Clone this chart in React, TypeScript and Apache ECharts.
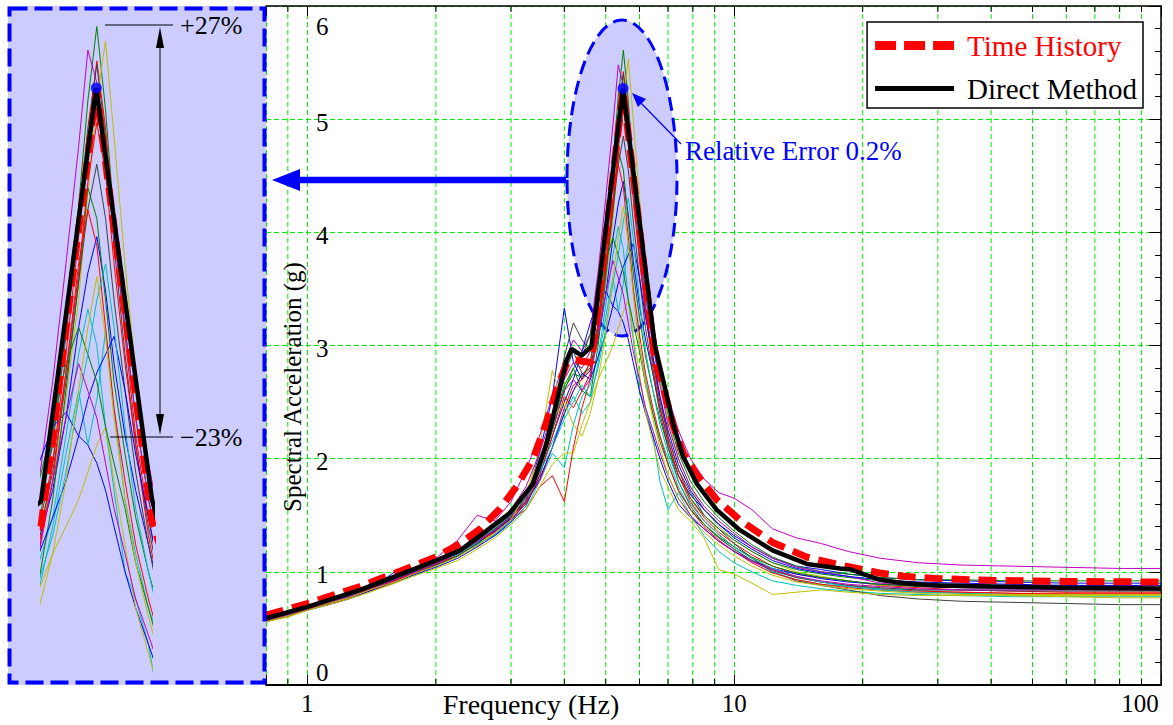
import React, { useEffect, useRef } from 'react';
import * as echarts from 'echarts';

// ---------- data ----------
const FREQ = [0.8, 0.9, 1.0, 1.12, 1.25, 1.4, 1.6, 1.8, 2.0, 2.25,
  2.5, 2.75, 3.0, 3.25, 3.5, 3.75, 4.0, 4.2, 4.4, 4.6,
  4.8, 5.0, 5.2, 5.35, 5.5, 5.65, 5.8, 6.0, 6.2, 6.45,
  6.7, 7.0, 7.4, 7.9, 8.5, 9.2, 10, 11, 12.3, 14,
  16, 18.5, 22, 27, 34, 45, 60, 80, 100];

const REC_01 = [0.57,0.62,0.68,0.72,0.80,0.84,1.00,1.02,1.08,1.15,1.24,1.33,1.45,1.62,2.05,2.55,3.33,2.85,2.70,2.78,3.05,3.45,3.95,4.25,4.45,4.15,3.75,3.35,3.05,2.75,2.45,2.15,1.85,1.68,1.55,1.42,1.32,1.22,1.12,1.05,1.02,0.98,0.95,0.93,0.92,0.91,0.90,0.90,0.90];
const REC_02 = [0.58,0.63,0.68,0.73,0.78,0.85,0.93,1.01,1.07,1.16,1.27,1.38,1.48,1.66,1.90,2.25,2.62,2.75,2.72,2.85,3.35,3.95,4.62,5.20,5.61,5.15,4.55,3.95,3.45,3.00,2.70,2.38,2.05,1.80,1.62,1.48,1.36,1.24,1.13,1.05,1.00,0.98,0.95,0.93,0.93,0.92,0.92,0.92,0.92];
const REC_03 = [0.56,0.61,0.67,0.71,0.77,0.83,0.90,0.99,1.05,1.20,1.22,1.36,1.47,1.55,1.75,1.85,1.62,2.10,2.45,2.70,3.20,3.80,4.45,5.00,5.42,5.05,4.50,3.90,3.35,2.90,2.55,2.20,1.90,1.65,1.48,1.35,1.25,1.15,1.05,0.98,0.95,0.92,0.88,0.86,0.84,0.83,0.82,0.82,0.82];
const REC_04 = [0.57,0.62,0.66,0.72,0.78,0.84,0.92,1.00,1.05,1.14,1.25,1.32,1.42,1.55,1.80,2.05,1.92,2.30,2.55,2.65,2.90,3.35,3.80,4.05,3.85,3.40,3.05,2.60,2.45,2.20,1.80,1.55,1.70,1.50,1.32,1.18,1.08,1.00,0.92,0.88,0.85,0.83,0.81,0.80,0.79,0.78,0.78,0.78,0.78];
const REC_05 = [0.58,0.64,0.70,0.75,0.80,0.87,0.96,1.04,1.12,1.28,1.50,1.45,1.62,1.90,2.20,2.55,2.85,3.05,2.95,3.10,3.65,4.30,4.95,5.48,5.30,4.95,4.50,4.05,3.65,3.20,2.85,2.55,2.25,2.00,1.82,1.70,1.65,1.55,1.38,1.30,1.25,1.18,1.12,1.08,1.06,1.05,1.04,1.03,1.03];
const REC_06 = [0.56,0.61,0.67,0.72,0.77,0.85,0.93,1.00,1.06,1.14,1.24,1.35,1.50,1.65,2.10,2.78,2.45,2.60,2.70,2.80,3.10,3.55,4.10,4.70,5.20,5.53,5.00,4.30,3.70,3.10,2.70,2.35,2.00,1.75,1.55,1.40,1.28,1.18,1.08,1.00,0.96,0.92,0.88,0.84,0.81,0.79,0.78,0.77,0.77];
const REC_07 = [0.57,0.62,0.67,0.73,0.77,0.84,0.92,0.98,1.06,1.15,1.25,1.37,1.50,1.68,1.95,2.40,2.90,3.20,3.05,2.95,3.30,3.90,4.55,5.05,5.40,5.00,4.40,3.80,3.30,2.85,2.50,2.20,1.90,1.70,1.50,1.38,1.25,1.12,1.00,0.92,0.88,0.84,0.79,0.76,0.74,0.73,0.72,0.71,0.71];
const REC_08 = [0.56,0.61,0.66,0.71,0.76,0.83,0.91,0.98,1.04,1.12,1.22,1.32,1.44,1.58,1.85,2.20,2.50,2.70,2.95,3.20,3.40,3.48,3.35,3.30,3.20,3.05,2.85,2.60,2.40,2.20,2.00,1.80,1.60,1.48,1.38,1.27,1.18,1.10,1.03,0.98,0.94,0.91,0.89,0.88,0.87,0.86,0.86,0.86,0.86];
const REC_09 = [0.58,0.63,0.68,0.73,0.79,0.86,0.94,1.02,1.08,1.17,1.28,1.40,1.50,1.62,1.88,2.25,2.60,2.80,2.60,2.55,3.00,3.60,4.20,4.72,4.55,4.10,3.65,3.25,2.90,2.60,2.35,2.10,1.85,1.65,1.50,1.38,1.28,1.18,1.08,1.02,0.98,0.95,0.92,0.90,0.89,0.88,0.88,0.88,0.88];
const REC_10 = [0.57,0.62,0.67,0.73,0.78,0.85,0.94,1.01,1.07,1.16,1.26,1.38,1.48,1.62,1.80,2.10,2.45,2.65,2.70,2.85,3.20,3.70,4.25,4.75,5.08,4.80,4.30,3.75,3.30,2.80,2.45,2.15,1.85,1.62,1.45,1.33,1.22,1.12,1.02,0.95,0.91,0.88,0.85,0.83,0.82,0.81,0.80,0.80,0.80];
const REC_11 = [0.57,0.61,0.67,0.72,0.78,0.85,0.93,1.00,1.06,1.16,1.24,1.33,1.45,1.58,1.90,2.15,2.40,2.55,2.40,2.50,2.85,3.25,3.60,3.30,3.55,3.93,3.50,3.00,2.70,2.40,2.20,2.00,1.75,1.55,1.42,1.30,1.20,1.10,1.00,0.93,0.89,0.87,0.85,0.84,0.84,0.84,0.84,0.84,0.84];
const REC_12 = [0.57,0.63,0.68,0.73,0.79,0.86,0.95,1.02,1.09,1.18,1.30,1.42,1.55,1.75,2.05,2.40,2.70,2.85,2.80,2.95,3.40,3.95,4.50,4.95,5.25,4.90,4.45,3.95,3.45,3.00,2.65,2.30,2.00,1.75,1.58,1.45,1.34,1.22,1.12,1.04,1.00,0.96,0.90,0.87,0.86,0.85,0.85,0.85,0.85];
const REC_13 = [0.56,0.60,0.66,0.71,0.76,0.82,0.90,0.97,1.03,1.10,1.20,1.30,1.42,1.55,1.75,1.95,2.05,2.05,2.30,2.50,2.70,2.85,3.00,3.15,3.30,3.40,3.10,2.75,2.40,2.15,1.90,1.75,1.55,1.45,1.30,1.02,0.98,0.90,0.80,0.82,0.84,0.82,0.80,0.79,0.79,0.79,0.79,0.79,0.79];
const REC_14 = [0.56,0.61,0.67,0.72,0.78,0.84,0.92,0.99,1.06,1.14,1.25,1.36,1.48,1.65,1.92,2.30,2.75,2.95,2.75,2.80,3.15,3.65,4.20,4.60,4.85,4.55,4.10,3.60,3.15,2.75,2.40,2.10,1.80,1.58,1.42,1.30,1.20,1.10,1.01,0.95,0.91,0.88,0.86,0.84,0.84,0.83,0.83,0.83,0.83];
const REC_15 = [0.57,0.62,0.67,0.72,0.78,0.85,0.93,1.01,1.07,1.16,1.26,1.36,1.47,1.60,1.82,2.10,2.40,2.60,2.75,2.70,2.90,3.10,3.35,3.55,3.70,3.80,3.90,3.60,3.25,2.90,2.55,2.25,1.95,1.72,1.55,1.42,1.30,1.20,1.10,1.03,0.99,0.96,0.93,0.91,0.90,0.89,0.88,0.88,0.88];
const REC_16 = [0.57,0.62,0.68,0.73,0.78,0.85,0.94,1.01,1.08,1.17,1.28,1.38,1.50,1.66,1.95,2.30,2.65,2.80,2.90,3.10,3.40,3.75,3.95,3.80,3.65,3.40,3.20,2.95,2.65,2.40,2.15,1.95,1.72,1.55,1.42,1.31,1.22,1.13,1.05,0.99,0.95,0.92,0.89,0.87,0.86,0.86,0.86,0.86,0.86];
const REC_17 = [0.57,0.61,0.67,0.72,0.77,0.85,0.92,1.00,1.07,1.15,1.27,1.35,1.46,1.60,1.85,2.20,2.55,2.45,2.60,2.75,3.10,3.70,4.30,4.60,4.40,3.95,3.50,3.10,2.75,2.45,2.20,1.95,1.72,1.55,1.40,1.28,1.18,1.08,0.99,0.93,0.89,0.86,0.84,0.82,0.82,0.81,0.81,0.81,0.81];
const REC_18 = [0.58,0.62,0.68,0.73,0.78,0.86,0.95,1.02,1.09,1.15,1.26,1.39,1.50,1.65,1.88,2.10,2.35,2.50,2.65,2.55,2.80,3.15,3.55,3.80,4.10,4.30,3.95,3.40,2.95,2.60,2.30,2.05,1.80,1.60,1.45,1.33,1.22,1.12,1.03,0.96,0.91,0.87,0.84,0.82,0.81,0.80,0.80,0.80,0.80];
const REC_19 = [0.57,0.62,0.67,0.73,0.78,0.84,0.93,1.00,1.07,1.17,1.27,1.37,1.49,1.64,1.92,2.28,2.60,2.70,2.60,2.70,3.10,3.45,3.75,3.60,3.45,3.20,2.95,2.70,2.45,2.25,2.05,1.85,1.65,1.50,1.38,1.27,1.18,1.09,1.02,0.96,0.92,0.89,0.87,0.85,0.84,0.84,0.84,0.84,0.84];
const REC_20 = [0.56,0.61,0.66,0.72,0.77,0.84,0.91,0.99,1.05,1.13,1.23,1.34,1.46,1.70,2.00,2.35,2.50,2.30,2.20,2.40,2.70,3.10,3.60,3.95,4.23,3.90,3.45,3.00,2.65,2.35,2.10,1.85,1.65,1.48,1.35,1.24,1.14,1.05,0.97,0.91,0.88,0.85,0.83,0.81,0.80,0.80,0.80,0.80,0.80];

const RECORDS = [REC_01, REC_02, REC_03, REC_04, REC_05, REC_06, REC_07, REC_08, REC_09, REC_10,
  REC_11, REC_12, REC_13, REC_14, REC_15, REC_16, REC_17, REC_18, REC_19, REC_20];
const REC_COLORS = ['#0000ff', '#008000', '#ff0000', '#00bfbf', '#bf00bf', '#bfbf00', '#404040'];

const TH_FREQ = [0.8, 1.0, 1.33, 1.74, 2.0, 2.28, 2.54, 2.83, 3.1, 3.38, 3.63, 3.83, 4.05, 4.2, 4.4, 4.63, 5.49, 6.52, 6.88, 7.19, 7.59, 8.17, 9.09, 10.3, 12.3, 14.8, 17.7, 21.9, 25, 30, 40, 60, 100];
const TH_ACC = [0.617, 0.72, 0.87, 1.04, 1.13, 1.25, 1.38, 1.56, 1.76, 2.0, 2.32, 2.6, 2.84, 2.88, 2.86, 2.85, 5.26, 2.88, 2.58, 2.3, 2.05, 1.86, 1.64, 1.46, 1.26, 1.13, 1.06, 0.99, 0.96, 0.94, 0.925, 0.915, 0.91];

const DM_FREQ = [0.8, 1.0, 1.33, 1.74, 2.0, 2.28, 2.54, 2.98, 3.38, 3.63, 3.83, 4.05, 4.16, 4.39, 4.63, 5.49, 6.52, 6.88, 7.19, 7.59, 8.17, 9.09, 10.3, 12.3, 14.8, 17.7, 18.8, 21.9, 25, 30, 40, 60, 100];
const DM_ACC = [0.59, 0.69, 0.84, 1.01, 1.10, 1.19, 1.32, 1.52, 1.78, 2.13, 2.49, 2.87, 2.97, 2.91, 2.99, 5.27, 3.0, 2.63, 2.31, 2.02, 1.78, 1.55, 1.37, 1.19, 1.07, 1.03, 1.02, 0.93, 0.90, 0.88, 0.87, 0.86, 0.853];

const PEAK = [5.49, 5.27];
const X_TICK_LABELS = [1, 10, 100];
const MINOR_X = [0.9, 2, 3, 4, 5, 6, 7, 8, 9, 20, 30, 40, 50, 60, 70, 80, 90];

// ---------- styling ----------
const SERIF = "'Liberation Serif', 'DejaVu Serif', serif";
const GREEN = '#00ee00';
const LAVENDER = '#ccccff';
const BLUE = '#0000ff';
const ICON_DASHED = 'path://M0,0h21v9h-21z M29,0h21v9h-21z M58,0h21v9h-21z';
const ICON_SOLID = 'path://M0,0h0.01v0.01h-0.01z M0,2h79v5h-79z M78.99,8.99h0.01v0.01h-0.01z';

export default function App() {
  const ref = useRef<HTMLDivElement>(null);

  useEffect(() => {
    if (!ref.current) return;
    const chart = echarts.init(ref.current, undefined, { renderer: 'svg' });

    const series: any[] = [];
    RECORDS.forEach((rec, i) => {
      const data = FREQ.map((f, j) => [f, rec[j]]);
      const color = REC_COLORS[i % REC_COLORS.length];
      [[0, 0], [2, 2]].forEach(([xi, yi]) => {
        series.push({
          type: 'line', name: `Record ${i + 1}`, xAxisIndex: xi, yAxisIndex: yi,
          data, symbol: 'none', silent: true, z: 2,
          lineStyle: { color, width: 1 }, itemStyle: { color },
        });
      });
    });
    const thData = TH_FREQ.map((f, i) => [f, TH_ACC[i]]);
    const dmData = DM_FREQ.map((f, i) => [f, DM_ACC[i]]);
    [[0, 0], [2, 2]].forEach(([xi, yi]) => {
      series.push({
        type: 'line', name: 'Time History', xAxisIndex: xi, yAxisIndex: yi, data: thData,
        symbol: 'none', z: 3,
        lineStyle: { color: '#ff0000', width: 7, type: [18, 9] }, itemStyle: { color: '#ff0000' },
      });
      series.push({
        type: 'line', name: 'Direct Method', xAxisIndex: xi, yAxisIndex: yi, data: dmData,
        symbol: 'none', z: 4,
        lineStyle: { color: '#000000', width: 4.5 }, itemStyle: { color: '#000000' },
      });
      series.push({
        type: 'scatter', name: 'Peak', xAxisIndex: xi, yAxisIndex: yi, data: [PEAK],
        symbolSize: 11, z: 5, itemStyle: { color: BLUE },
      });
    });
    // minor log gridlines & ticks
    series.push({
      type: 'custom', name: 'minor', xAxisIndex: 0, yAxisIndex: 0, z: 0, silent: true,
      data: MINOR_X.map((v) => [v, 0]),
      encode: { x: 0, y: 1 },
      renderItem: (params: any, api: any) => {
        const x = api.coord([api.value(0), 1])[0];
        const cs = params.coordSys;
        const top = cs.y, bot = cs.y + cs.height;
        return {
          type: 'group',
          children: [
            { type: 'line', shape: { x1: x, y1: top, x2: x, y2: bot }, style: { stroke: GREEN, lineWidth: 1, lineDash: [5, 3] } },
            { type: 'line', shape: { x1: x, y1: bot, x2: x, y2: bot - 6 }, style: { stroke: '#000', lineWidth: 1 } },
            { type: 'line', shape: { x1: x, y1: top, x2: x, y2: top + 6 }, style: { stroke: '#000', lineWidth: 1 } },
          ],
        };
      },
    });

    const fmtX = (v: number) => {
      const r = Math.round(v * 1000) / 1000;
      if (r === 100) return '{r|100}';
      if (X_TICK_LABELS.includes(r)) return `{n|${r}}`;
      return '';
    };
    const fmtY = (v: number) => (v === 6 ? `{t|${v}}` : v === 0 ? `{b|${v}}` : `{m|${v}}`);
    const tickFont = { fontFamily: SERIF, fontSize: 25, color: '#000' };

    const option: any = {
      animation: false,
      backgroundColor: '#ffffff',
      grid: [
        { left: 266, top: 6, right: 12, bottom: 40, show: false },
        { left: 41, top: 6, width: 111, height: 679, show: false },
      ],
      xAxis: [
        {
          type: 'log', logBase: 10, gridIndex: 0, min: 0.8, max: 100, position: 'bottom',
          axisLine: { show: true, onZero: false, lineStyle: { color: '#000', width: 2 } },
          axisTick: { show: true, inside: true, length: 10, lineStyle: { color: '#000', width: 1 } },
          axisLabel: {
            show: true, margin: 6, formatter: fmtX, ...tickFont,
            rich: { n: { ...tickFont }, r: { ...tickFont, padding: [0, 42, 0, 0] } },
          },
          splitLine: { show: true, lineStyle: { color: GREEN, width: 1, type: [5, 3] } },
        },
        {
          type: 'log', logBase: 10, gridIndex: 0, min: 0.8, max: 100, position: 'top',
          axisLine: { show: true, onZero: false, lineStyle: { color: '#000', width: 1.5 } },
          axisTick: { show: true, inside: true, length: 10, lineStyle: { color: '#000', width: 1 } },
          axisLabel: { show: false }, splitLine: { show: false },
        },
        { type: 'log', logBase: 10, gridIndex: 1, min: 4.63, max: 6.52, show: false },
      ],
      yAxis: [
        {
          type: 'value', gridIndex: 0, min: 0, max: 6, interval: 1, position: 'left',
          axisLine: { show: false }, axisTick: { show: false },
          axisLabel: {
            inside: true, margin: 50, formatter: fmtY, ...tickFont,
            rich: {
              t: { ...tickFont, padding: [40, 0, 0, 0] },
              b: { ...tickFont, padding: [0, 0, 26, 0] },
              m: { ...tickFont, padding: [6, 0, 0, 0] },
            },
          },
          splitLine: { show: true, lineStyle: { color: GREEN, width: 1, type: [5, 3] } },
        },
        {
          type: 'value', gridIndex: 0, min: 0, max: 6, interval: 1, position: 'right',
          axisLine: { show: true, onZero: false, lineStyle: { color: '#000', width: 1.5 } },
          axisTick: { show: true, inside: true, length: 12, lineStyle: { color: '#000' } },
          minorTick: { show: true, splitNumber: 5, length: 6, lineStyle: { color: '#000' } },
          axisLabel: { show: false }, splitLine: { show: false },
        },
        { type: 'value', gridIndex: 1, min: 1.976, max: 5.723, show: false },
      ],
      legend: {
        orient: 'vertical', right: 30, top: 22,
        padding: [9, 6, 5, 8], itemGap: 14, itemWidth: 79, itemHeight: 9,
        borderColor: '#000', borderWidth: 1.5, backgroundColor: '#fff',
        textStyle: { fontFamily: SERIF, fontSize: 29, padding: [0, 0, 0, 8] },
        data: [
          { name: 'Time History', icon: ICON_DASHED, textStyle: { color: '#ff0000' } },
          { name: 'Direct Method', icon: ICON_SOLID, textStyle: { color: '#000000' } },
        ],
      },
      graphic: [
        { type: 'rect', z: 0, silent: true, shape: { x: 8, y: 6, width: 258, height: 679 }, style: { fill: LAVENDER } },
        { type: 'rect', z: 100, silent: true, shape: { x: 9.5, y: 8.5, width: 255, height: 674 }, style: { fill: 'none', stroke: BLUE, lineWidth: 4, lineDash: [18, 7] } },
        { type: 'ellipse', z: 1, silent: true, shape: { cx: 622, cy: 178, rx: 55, ry: 158 }, style: { fill: LAVENDER, stroke: BLUE, lineWidth: 3, lineDash: [14, 7] } },
        { type: 'line', z: 100, silent: true, shape: { x1: 296, y1: 180, x2: 566, y2: 180 }, style: { stroke: BLUE, lineWidth: 6.5 } },
        { type: 'polygon', z: 100, silent: true, shape: { points: [[272, 180], [300, 169], [300, 191]] }, style: { fill: BLUE } },
        { type: 'line', z: 100, silent: true, shape: { x1: 681, y1: 144, x2: 641, y2: 103 }, style: { stroke: BLUE, lineWidth: 1.2 } },
        { type: 'polygon', z: 100, silent: true, shape: { points: [[632, 93], [646, 99], [638, 107]] }, style: { fill: BLUE } },
        { type: 'text', z: 100, silent: true, x: 685, y: 151, style: { text: 'Relative Error 0.2%', fill: BLUE, font: `27px ${SERIF}`, align: 'left', verticalAlign: 'middle' } },
        // inset annotation
        { type: 'line', z: 100, silent: true, shape: { x1: 105, y1: 25, x2: 173, y2: 25 }, style: { stroke: '#000', lineWidth: 1 } },
        { type: 'line', z: 100, silent: true, shape: { x1: 110, y1: 437, x2: 173, y2: 437 }, style: { stroke: '#000', lineWidth: 1 } },
        { type: 'line', z: 100, silent: true, shape: { x1: 160, y1: 40, x2: 160, y2: 422 }, style: { stroke: '#000', lineWidth: 1 } },
        { type: 'polygon', z: 100, silent: true, shape: { points: [[160, 27], [156, 48], [164, 48]] }, style: { fill: '#000' } },
        { type: 'polygon', z: 100, silent: true, shape: { points: [[160, 435], [156, 414], [164, 414]] }, style: { fill: '#000' } },
        { type: 'text', z: 100, silent: true, x: 180, y: 25, style: { text: '+27%', fill: '#000', font: `26px ${SERIF}`, align: 'left', verticalAlign: 'middle' } },
        { type: 'text', z: 100, silent: true, x: 180, y: 437, style: { text: '\u221223%', fill: '#000', font: `26px ${SERIF}`, align: 'left', verticalAlign: 'middle' } },
        // axis names
        { type: 'text', z: 100, silent: true, x: 531, y: 704, style: { text: 'Frequency (Hz)', fill: '#000', font: `28px ${SERIF}`, align: 'center', verticalAlign: 'middle' } },
        { type: 'text', z: 100, silent: true, x: 292, y: 387, rotation: Math.PI / 2, style: { text: 'Spectral Acceleration (g)', fill: '#000', font: `25px ${SERIF}`, align: 'center', verticalAlign: 'middle' } },
      ],
      series,
    };
    chart.setOption(option);
    return () => chart.dispose();
  }, []);

  return (
    <div
      ref={ref}
      style={{ position: 'fixed', left: 0, top: 0, width: 1173, height: 725, background: '#fff' }}
    />
  );
}
